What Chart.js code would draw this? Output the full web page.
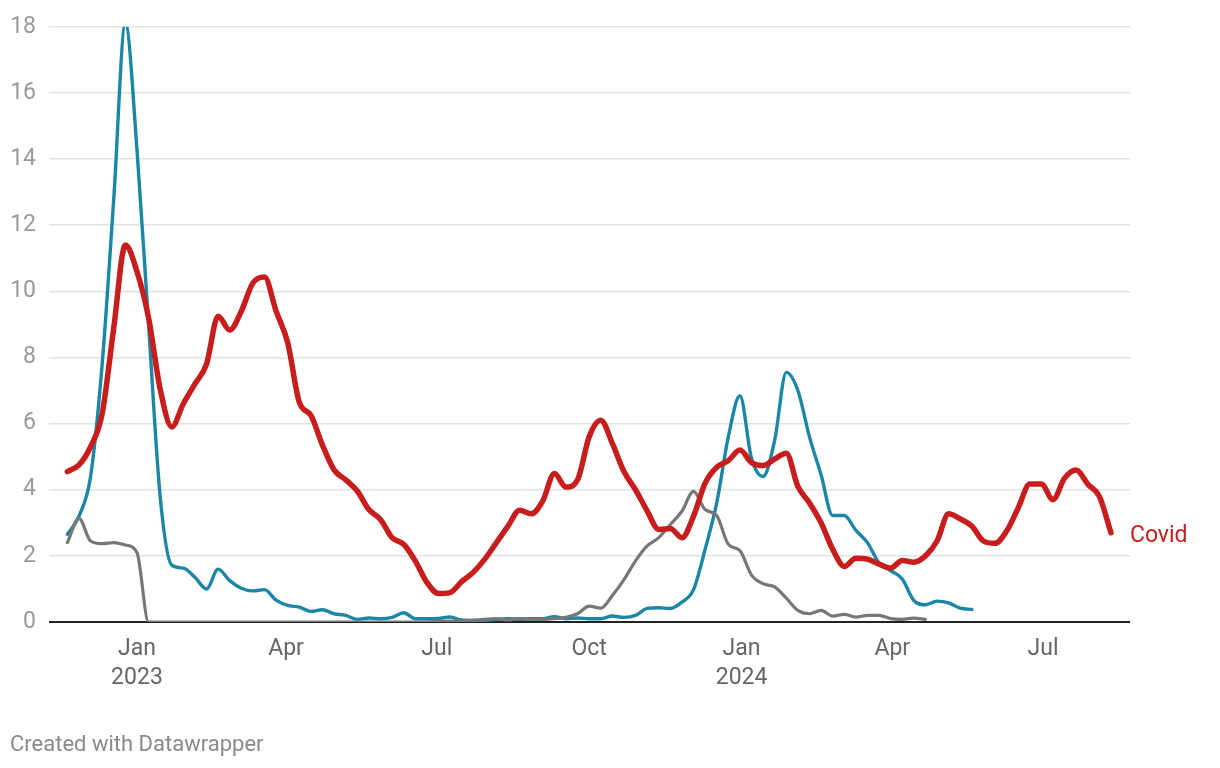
<!DOCTYPE html>
<html>
<head>
<meta charset="utf-8">
<script src="https://cdn.jsdelivr.net/npm/chart.js@4.4.1/dist/chart.umd.min.js"></script>
<style>
  html, body { margin:0; padding:0; background:#fff; }
  #wrap { position:relative; width:1220px; height:768px; }
</style>
</head>
<body>
<div id="wrap"><canvas id="chart"></canvas></div>
<script>
// semaines (dimanches), nov. 2022 -> août 2024
const semaines = [
  '2022-11-20','2022-11-27','2022-12-04','2022-12-11','2022-12-18','2022-12-25',
  '2023-01-01','2023-01-08','2023-01-15','2023-01-22','2023-01-29','2023-02-05','2023-02-12','2023-02-19','2023-02-26',
  '2023-03-05','2023-03-12','2023-03-19','2023-03-26','2023-04-02','2023-04-09','2023-04-16','2023-04-23','2023-04-30',
  '2023-05-07','2023-05-14','2023-05-21','2023-05-28','2023-06-04','2023-06-11','2023-06-18','2023-06-25','2023-07-02',
  '2023-07-09','2023-07-16','2023-07-23','2023-07-30','2023-08-06','2023-08-13','2023-08-20','2023-08-27','2023-09-03',
  '2023-09-10','2023-09-17','2023-09-24','2023-10-01','2023-10-08','2023-10-15','2023-10-22','2023-10-29','2023-11-05',
  '2023-11-12','2023-11-19','2023-11-26','2023-12-03','2023-12-10','2023-12-17','2023-12-24','2023-12-31',
  '2024-01-07','2024-01-14','2024-01-21','2024-01-28','2024-02-04','2024-02-11','2024-02-18','2024-02-25','2024-03-03',
  '2024-03-10','2024-03-17','2024-03-24','2024-03-31','2024-04-07','2024-04-14','2024-04-21','2024-04-28','2024-05-05',
  '2024-05-12','2024-05-19','2024-05-26','2024-06-02','2024-06-09','2024-06-16','2024-06-23','2024-06-30','2024-07-07',
  '2024-07-14','2024-07-21','2024-07-28','2024-08-04','2024-08-11'
];

const covid = [
  4.55, 4.75, 5.3, 6.3, 8.9, 11.4, 10.6, 9.2, 7.05, 5.9,
  6.6, 7.2, 7.8, 9.25, 8.83, 9.4, 10.25, 10.43, 9.4, 8.45,
  6.65, 6.25, 5.35, 4.6, 4.3, 3.96, 3.4, 3.1, 2.55, 2.35,
  1.85, 1.2, 0.86, 0.89, 1.22, 1.5, 1.9, 2.4, 2.9, 3.38,
  3.27, 3.66, 4.49, 4.08, 4.3, 5.6, 6.1, 5.4, 4.55, 4.0,
  3.36, 2.8, 2.83, 2.55, 3.2, 4.2, 4.68, 4.88, 5.2, 4.82,
  4.73, 4.93, 5.1, 4.1, 3.6, 3.0, 2.2, 1.68, 1.93, 1.9,
  1.75, 1.63, 1.86, 1.81, 2.0, 2.45, 3.27, 3.12, 2.9, 2.45,
  2.38, 2.75, 3.45, 4.17, 4.17, 3.7, 4.35, 4.6, 4.17, 3.8,
  2.7
];

const grippe = [
  2.65, 3.2, 4.4, 7.8, 12.8, 18.1, 14.3, 9.0, 3.8, 1.72,
  1.63, 1.35, 1.0, 1.6, 1.25, 1.02, 0.94, 0.98, 0.66, 0.5,
  0.45, 0.32, 0.37, 0.25, 0.2, 0.08, 0.12, 0.1, 0.14, 0.28,
  0.1, 0.1, 0.11, 0.15, 0.06, 0.05, 0.05, 0.08, 0.1, 0.08,
  0.1, 0.1, 0.16, 0.1, 0.12, 0.1, 0.1, 0.18, 0.14, 0.2,
  0.41, 0.43, 0.41, 0.6, 0.98, 2.2, 3.6, 5.6, 6.84, 4.95,
  4.4, 5.5, 7.55, 7.0, 5.6, 4.45, 3.22, 3.22, 2.77, 2.4,
  1.78, 1.55, 1.3, 0.65, 0.52, 0.63, 0.58, 0.42, 0.38,
  null, null, null, null, null, null, null, null, null, null, null, null
];

const vrs = [
  2.4, 3.13, 2.45, 2.37, 2.4, 2.33, 2.1, 0, 0, 0,
  0, 0, 0, 0, 0, 0, 0, 0, 0, 0,
  0, 0, 0, 0, 0, 0, 0, 0, 0, 0,
  0, 0, 0.02, 0.03, 0.03, 0.05, 0.08, 0.1, 0.06, 0.1,
  0.08, 0.08, 0.1, 0.14, 0.25, 0.48, 0.42, 0.8, 1.28, 1.85,
  2.3, 2.55, 2.95, 3.35, 3.95, 3.4, 3.22, 2.35, 2.16, 1.42,
  1.16, 1.06, 0.72, 0.35, 0.25, 0.35, 0.18, 0.23, 0.15, 0.2,
  0.2, 0.1, 0.08, 0.12, 0.08,
  null, null, null, null, null, null, null, null, null, null, null, null, null, null, null, null
];

// graduations de l'axe x
const ticksX = ['2023-01-01','2023-04-01','2023-07-01','2023-10-01','2024-01-01','2024-04-01','2024-07-01'];
const labelsX = [['Jan','2023'],['Apr'],['Jul'],['Oct'],['Jan','2024'],['Apr'],['Jul']];

// jours depuis le 1er janvier 2023
const jour0 = Date.UTC(2023,0,1);
function jours(s){ const [y,m,d] = s.split('-').map(Number); return (Date.UTC(y,m-1,d)-jour0)/86400000; }
const xs = semaines.map(jours);
const serie = vals => vals.map((v,i)=>({ x: xs[i], y: v }));

// étiquette "Covid" + crédit
const etiquettes = {
  id: 'etiquettes',
  afterDatasetsDraw(chart){
    const ctx = chart.ctx;
    const pts = chart.getDatasetMeta(0).data;
    const last = pts[pts.length-1];
    ctx.save();
    ctx.textBaseline = 'middle';
    ctx.textAlign = 'left';
    ctx.font = '23px Roboto';
    ctx.fillStyle = '#c71e1d';
    ctx.fillText('Covid', last.x+19, last.y+4);
    ctx.font = '22px Roboto';
    ctx.fillStyle = '#8a8a8a';
    ctx.fillText('Created with Datawrapper', 10, 745);
    ctx.restore();
  }
};

const chart = new Chart(document.getElementById('chart'), {
  type: 'line',
  data: {
    datasets: [
      { label:'Covid', data: serie(covid), borderColor:'#c71e1d', borderWidth:5.5 },
      { label:'RSV', data: serie(vrs), borderColor:'#777777', borderWidth:3.2 },
      { label:'Grippe', data: serie(grippe), borderColor:'#1b86a6', borderWidth:3.4 }
    ]
  },
  options: {
    responsive:true, maintainAspectRatio:false, animation:false,
    layout: { padding: { left:11, right:90, top:25, bottom:0 } },
    plugins: { legend:{display:false}, tooltip:{enabled:false} },
    elements: {
      point: { radius:0 },
      line: { cubicInterpolationMode:'monotone', borderCapStyle:'round', borderJoinStyle:'round', fill:false }
    },
    scales: {
      x: {
        type:'linear', min:-53.1, max:599.5,
        afterBuildTicks: s => { s.ticks = ticksX.map(t => ({ value: jours(t) })); },
        afterFit: s => { s.height = 146; },
        grid: { display:false }, border: { display:false },
        ticks: {
          autoSkip:false, maxRotation:0, padding:5, color:'#666',
          font: { family:'Roboto', size:23, lineHeight:1.26 },
          callback: (v, i) => labelsX[i]
        }
      },
      y: {
        min:0, max:18,
        afterFit: s => { s.width = 38; },
        grid: {
          color: c => c.tick.value === 0 ? '#222' : '#e3e3e3',
          lineWidth: c => c.tick.value === 0 ? 2 : 1.5,
          drawTicks:false
        },
        border: { display:false },
        ticks: { stepSize:2, padding:13, color:'#9a9a9a', font: { family:'Roboto', size:23 } }
      }
    }
  },
  plugins: [etiquettes]
});
</script>
</body>
</html>
